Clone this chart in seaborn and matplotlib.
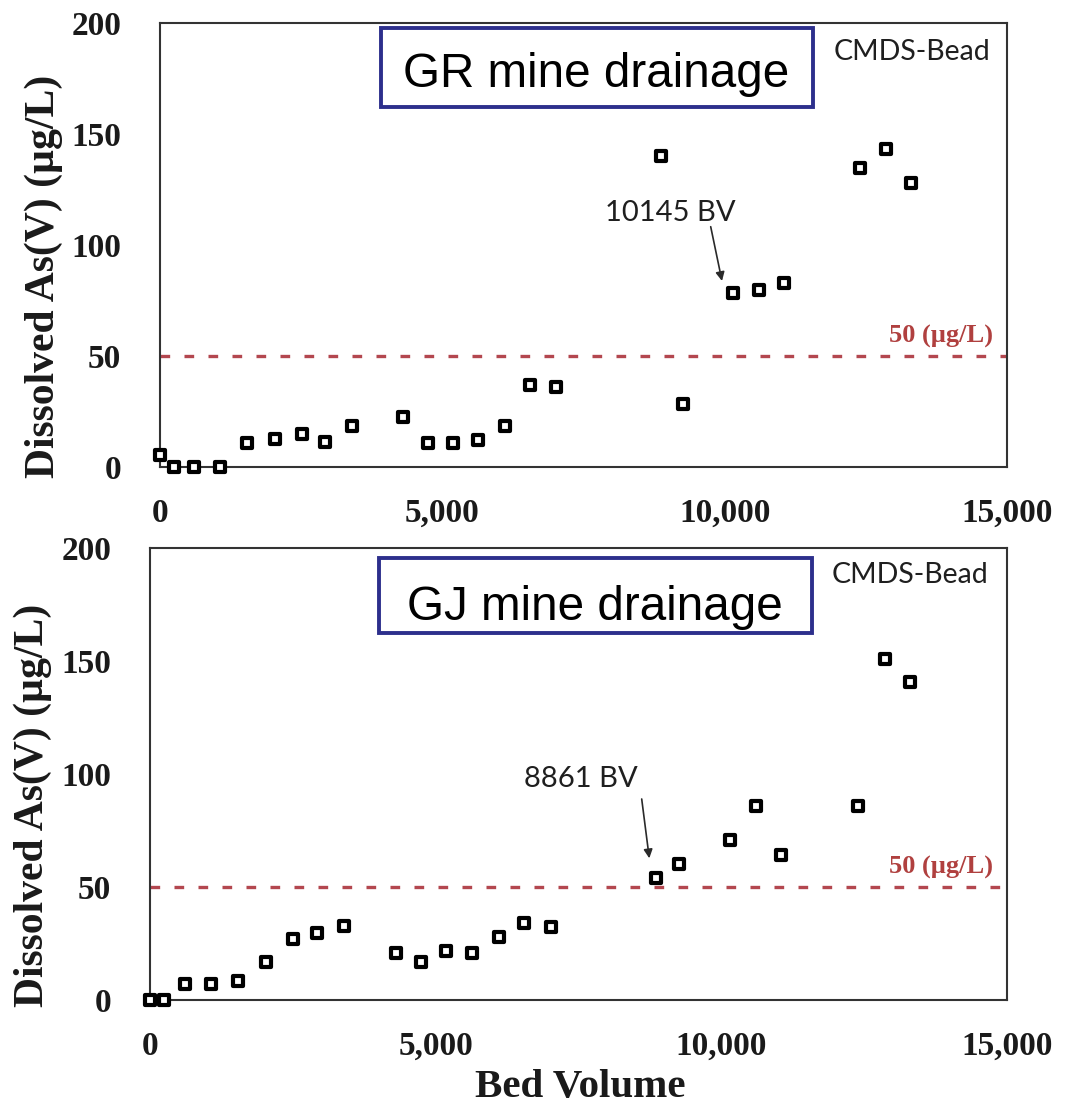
import numpy as np
import pandas as pd
import matplotlib
matplotlib.use("Agg")
import matplotlib.pyplot as plt
from matplotlib.patches import Rectangle, FancyArrowPatch
import seaborn as sns

# ---------------- data ----------------
bed_volume = [0, 240, 605, 1065, 1535, 2030, 2510, 2915, 3400, 4300, 4740, 5180,
              5630, 6105, 6545, 7010, 8861, 9250, 10145, 10597, 11045, 12390, 12858, 13300]
gr_as = [5.5, 0, 0, 0, 10.8, 12.5, 15.0, 11.3, 18.5, 22.5, 11.0, 11.0,
         12.3, 18.3, 36.8, 36.0, 140.1, 28.5, 78.4, 79.6, 83.0, 134.5, 143.2, 128.0]
gj_as = [0, 0, 7.1, 7.1, 8.5, 16.9, 26.8, 29.5, 32.7, 20.9, 16.9, 21.8,
         20.9, 28.0, 34.2, 32.4, 53.8, 60.0, 70.7, 85.6, 64.1, 85.9, 151.0, 140.7]
panel_titles = ["GR mine drainage", "GJ mine drainage"]
breakthrough_labels = ["10145 BV", "8861 BV"]
limit_value = 50
limit_label = "50 (µg/L)"
media_label = "CMDS-Bead"
x_ticks = [0, 5000, 10000, 15000]
x_tick_labels = ["0", "5,000", "10,000", "15,000"]
y_ticks = [0, 50, 100, 150, 200]
y_label = "Dissolved As(V) (µg/L)"
x_label = "Bed Volume"

# ---------------- style ----------------
sns.set_style("white")
plt.rcParams["font.family"] = ["Liberation Serif", "DejaVu Serif"]
plt.rcParams["font.weight"] = "bold"

W, H = 1076, 1107
def fx(x):
    return x / W
def fy(y):
    return 1 - y / H

fig = plt.figure(figsize=(W / 100, H / 100), dpi=100)
ax_top = fig.add_axes([fx(160), fy(467), fx(1007.3) - fx(160), fy(22.7) - fy(467)])
ax_bot = fig.add_axes([fx(150), fy(1000), fx(1007.3) - fx(150), fy(547.7) - fy(1000)])

navy = "#2D2F8C"
red = "#B3474F"
txt_dark = "#1f1f1f"

panels = [
    dict(ax=ax_top, vals=gr_as, box=(381, 28.3, 813.3, 107.3), title_xy=(596.5, 87.3),
         media_xy=(990, 60.5), bt_xy=(670.8, 220.7), arrow=((710.7, 226.7), (722, 281))),
    dict(ax=ax_bot, vals=gj_as, box=(379, 557.5, 811.7, 633.3), title_xy=(595, 620.5),
         media_xy=(988.3, 583.3), bt_xy=(580.5, 787.3), arrow=((641.7, 799), (649.3, 858.3))),
]

for i, p in enumerate(panels):
    ax = p["ax"]
    df = pd.DataFrame({"bv": bed_volume, "as": p["vals"]})
    sns.scatterplot(data=df, x="bv", y="as", ax=ax, marker="s", s=55,
                    color="white", edgecolor="black", linewidth=3,
                    zorder=4, clip_on=False, legend=False)
    ax.axhline(limit_value, color=red, lw=2.4, dashes=(2.9, 4.3), zorder=2)
    ax.annotate(limit_label, xy=(1, limit_value), xycoords=("axes fraction", "data"),
                xytext=(-10.5, 9.3), textcoords="offset points", ha="right", va="baseline",
                color="#B0403F", fontsize=19, fontweight="bold")

    ax.set_xlim(0, 15000)
    ax.set_ylim(0, 200)
    ax.set_xticks(x_ticks)
    ax.set_xticklabels(x_tick_labels)
    ax.set_yticks(y_ticks)
    ax.set_yticklabels([str(v) for v in y_ticks])
    ax.tick_params(axis="both", direction="in", length=7, width=1.2, color="#555555",
                   labelsize=24, labelcolor="#1a1a1a")
    ax.tick_params(axis="x", pad=22.5)
    ax.tick_params(axis="y", pad=28)
    for sp in ax.spines.values():
        sp.set_color("#333333")
        sp.set_linewidth(1.5)

    ax.set_ylabel(y_label, fontsize=30, fontweight="bold", color="#1a1a1a")
    ax.yaxis.label.set_va("center")
    ax.yaxis.set_label_coords(-0.137, 0.43)
    ax.set_xlabel("")

    # title box
    x0, y0, x1, y1 = p["box"]
    fig.add_artist(Rectangle((fx(x0), fy(y1)), fx(x1) - fx(x0), fy(y0) - fy(y1),
                             transform=fig.transFigure, facecolor="white",
                             edgecolor=navy, lw=2.8, zorder=5))
    fig.text(fx(p["title_xy"][0]), fy(p["title_xy"][1]), panel_titles[i],
             ha="center", va="baseline", fontsize=34.3, family="Liberation Sans",
             fontweight="normal", color="black", zorder=6)
    fig.text(fx(p["media_xy"][0]), fy(p["media_xy"][1]), media_label,
             ha="right", va="baseline", fontsize=20.5, family="Lato",
             fontweight="normal", color=txt_dark, zorder=6)
    fig.text(fx(p["bt_xy"][0]), fy(p["bt_xy"][1]), breakthrough_labels[i],
             ha="center", va="baseline", fontsize=21, family="Lato",
             fontweight="normal", color=txt_dark, zorder=6)
    (ax_s, ay_s), (ax_e, ay_e) = p["arrow"]
    fig.add_artist(FancyArrowPatch((fx(ax_s), fy(ay_s)), (fx(ax_e), fy(ay_e)),
                                   transform=fig.transFigure, arrowstyle="-|>",
                                   mutation_scale=13, lw=1.2, color="#2a2a2a",
                                   shrinkA=0, shrinkB=0, zorder=6))

ax_bot.set_xlabel(x_label, fontsize=29.5, fontweight="bold", color="#1a1a1a")
ax_bot.xaxis.label.set_va("baseline")
ax_bot.xaxis.set_label_coords(0.5016, -0.2155)

fig.savefig("out.png", dpi=100)
